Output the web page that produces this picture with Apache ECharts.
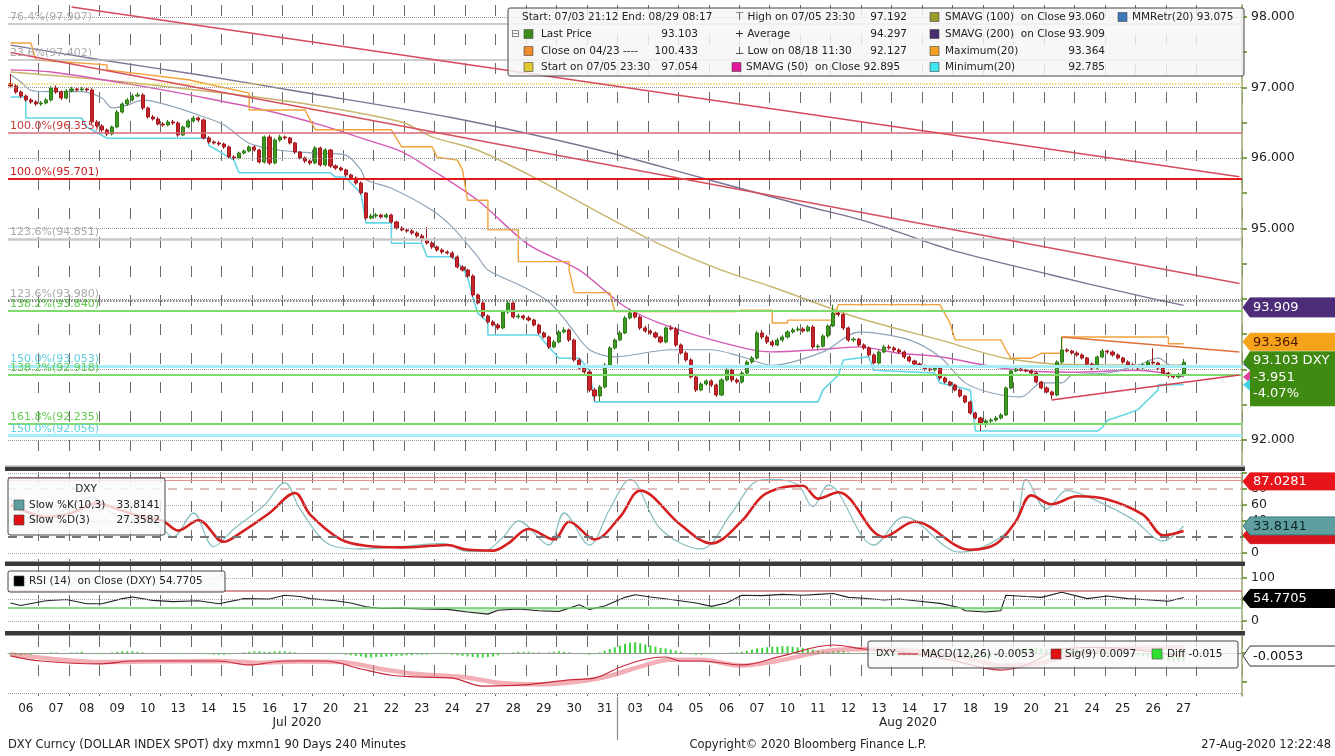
<!DOCTYPE html>
<html><head><meta charset="utf-8">
<script src="https://cdn.jsdelivr.net/npm/echarts@6/dist/echarts.min.js"></script>
<style>html,body{margin:0;padding:0;background:#fff}#c{width:1335px;height:756px}</style>
</head><body><div id="c"></div>
<script>
// ---------------- DATA ----------------
const dayLabels = ['06','07','08','09','10','13','14','15','16','17','20','21','22','23','24','27','28','29','30','31',
  '03','04','05','06','07','10','11','12','13','14','17','18','19','20','21','24','25','26','27'];
const firstOpen = 97.054;
const closes = [
 97.021,96.936,96.879,96.823,96.794,96.766, 96.780,96.823,96.993,96.936,96.851,96.950,
 96.979,96.965,96.979,96.965,96.511,96.454, 96.397,96.340,96.440,96.652,96.766,96.823,
 96.879,96.894,96.709,96.582,96.553,96.482, 96.468,96.511,96.496,96.326,96.440,96.525,
 96.567,96.539,96.284,96.227,96.213,96.198, 96.156,96.014,96.000,96.071,96.099,96.156,
 96.113,95.943,96.298,95.929,96.255,96.298, 96.284,96.213,96.085,96.000,95.957,95.929,
 96.142,95.901,96.113,95.887,95.858,95.830, 95.759,95.716,95.645,95.504,95.149,95.177,
 95.191,95.163,95.191,95.092,95.007,94.979, 94.965,94.936,94.894,94.837,94.794,94.738,
 94.695,94.667,94.652,94.596,94.454,94.411, 94.326,94.057,93.943,93.759,93.674,93.631,
 93.589,93.816,93.943,93.745,93.760,93.730, 93.702,93.631,93.518,93.461,93.319,93.390,
 93.532,93.560,93.418,93.135,93.021,92.965, 92.709,92.624,92.752,93.064,93.305,93.418,
 93.518,93.730,93.801,93.745,93.589,93.546, 93.518,93.461,93.390,93.589,93.575,93.348,
 93.234,93.135,92.894,92.709,92.794,92.837, 92.780,92.638,92.851,92.993,92.851,92.823,
 92.950,93.106,93.163,93.518,93.461,93.390, 93.348,93.418,93.461,93.532,93.560,93.574,
 93.546,93.603,93.319,93.330,93.475,93.617, 93.801,93.780,93.589,93.418,93.430,93.348,
 93.305,93.206,93.092,93.248,93.319,93.305, 93.277,93.248,93.177,93.121,93.078,93.050,
 93.007,92.993,93.021,92.879,92.823,92.780, 92.709,92.624,92.539,92.383,92.312,92.241,
 92.270,92.284,92.312,92.355,92.738,92.979, 93.007,92.993,92.979,92.950,92.823,92.738,
 92.681,92.638,93.106,93.277,93.262,93.234, 93.206,93.163,93.078,93.021,93.177,93.262,
 93.248,93.206,93.163,93.106,93.064,93.035, 93.021,93.064,93.106,93.092,93.021,92.950,
 92.908,92.894,92.922,93.103];
const highs = [
 97.192,97.05,96.96,96.90,96.85,96.82, 96.81,96.85,97.02,97.03,96.96,96.98,
 97.01,97.00,97.01,97.00,96.99,96.54, 96.48,96.42,96.46,96.68,96.79,96.85,
 96.91,96.93,96.92,96.73,96.61,96.58, 96.51,96.54,96.54,96.52,96.46,96.55,
 96.60,96.59,96.56,96.31,96.25,96.24, 96.22,96.18,96.04,96.09,96.12,96.18,
 96.18,96.13,96.32,96.33,96.28,96.33, 96.32,96.30,96.23,96.10,96.02,95.98,
 96.17,96.16,96.14,96.13,95.91,95.88, 95.85,95.78,95.74,95.67,95.52,95.21,
 95.22,95.21,95.22,95.21,95.11,95.03, 95.00,94.99,94.96,94.92,95.02,94.82,
 94.76,94.72,94.69,94.68,94.62,94.48, 94.43,94.35,94.08,93.97,93.78,93.70,
 93.66,93.84,93.98,93.96,93.79,93.78, 93.76,93.72,93.65,93.54,93.48,93.42,
 93.56,93.60,93.58,93.44,93.16,93.05, 92.99,92.74,92.78,93.09,93.33,93.44,
 93.55,93.76,93.86,93.83,93.77,93.62, 93.57,93.54,93.48,93.61,93.63,93.60,
 93.37,93.26,93.16,92.92,92.82,92.86, 92.86,92.80,92.88,93.02,93.01,92.88,
 92.98,93.13,93.19,93.55,93.56,93.49, 93.42,93.45,93.49,93.56,93.59,93.61,
 93.60,93.63,93.63,93.36,93.50,93.64, 93.92,93.84,93.80,93.61,93.46,93.45,
 93.37,93.33,93.23,93.27,93.35,93.35, 93.33,93.30,93.27,93.20,93.14,93.10,
 93.07,93.03,93.05,93.04,92.90,92.84, 92.80,92.73,92.64,92.56,92.40,92.33,
 92.30,92.31,92.34,92.38,92.76,93.00, 93.03,93.03,93.01,93.00,92.97,92.84,
 92.76,92.70,93.13,93.46,93.30,93.28, 93.26,93.23,93.18,93.10,93.20,93.29,
 93.28,93.27,93.23,93.18,93.13,93.09, 93.06,93.09,93.13,93.30,93.11,93.04,
 92.97,92.93,92.95,93.15];
const lows = [
 96.99,96.91,96.85,96.80,96.77,96.74, 96.74,96.76,96.80,96.91,96.82,96.83,
 96.93,96.94,96.95,96.94,96.48,96.43, 96.37,96.31,96.32,96.42,96.63,96.74,
 96.80,96.86,96.68,96.56,96.53,96.46, 96.44,96.45,96.47,96.30,96.31,96.42,
 96.50,96.51,96.26,96.20,96.19,96.17, 96.13,95.99,95.97,95.98,96.05,96.08,
 96.09,95.92,95.92,95.90,95.91,96.23, 96.26,96.19,96.06,95.98,95.93,95.90,
 95.91,95.88,95.88,95.86,95.83,95.81, 95.73,95.69,95.62,95.48,95.12,95.13,
 95.15,95.14,95.14,95.07,94.98,94.96, 94.94,94.91,94.87,94.81,94.77,94.71,
 94.67,94.64,94.63,94.57,94.43,94.39, 94.30,94.03,93.92,93.73,93.65,93.61,
 93.56,93.57,93.79,93.72,93.72,93.70, 93.68,93.61,93.49,93.44,93.29,93.30,
 93.37,93.51,93.39,93.11,93.00,92.94, 92.68,92.55,92.55,92.73,93.04,93.28,
 93.40,93.50,93.71,93.72,93.56,93.52, 93.49,93.44,93.37,93.37,93.55,93.32,
 93.21,93.11,92.87,92.68,92.69,92.77, 92.75,92.61,92.62,92.83,92.82,92.80,
 92.80,92.93,93.08,93.14,93.43,93.36, 93.32,93.33,93.39,93.44,93.51,93.54,
 93.52,93.53,93.29,93.29,93.31,93.45, 93.60,93.75,93.56,93.39,93.39,93.32,
 93.28,93.18,93.07,93.07,93.23,93.28, 93.25,93.22,93.15,93.10,93.05,93.03,
 92.98,92.97,92.97,92.85,92.80,92.76, 92.69,92.60,92.52,92.36,92.29,92.127,
 92.18,92.24,92.26,92.29,92.34,92.72, 92.96,92.97,92.96,92.93,92.80,92.72,
 92.66,92.58,92.62,93.08,93.24,93.21, 93.18,93.14,93.05,92.99,93.00,93.16,
 93.22,93.18,93.14,93.08,93.04,93.01, 92.99,93.00,93.04,93.07,92.99,92.93,
 92.88,92.87,92.87,92.90];

// indicator lines: [bar index, value]
const sma200 = [[0,97.60],[18,97.39],[37,97.18],[57,96.94],[87,96.57],[116,96.11],[136,95.72],[156,95.33],[169,95.09],[185,94.70],[205,94.34],[219,94.10],[231,93.909]];
const sma100 = [[0,97.22],[18,97.11],[37,96.96],[57,96.78],[77,96.51],[83,96.30],[92,96.11],[104,95.69],[116,95.22],[128,94.77],[140,94.41],[150,94.17],[167,93.73],[183,93.42],[196,93.16],[209,93.07],[231,93.06]];
const sma50 = [[0,97.25],[8,97.22],[24,97.04],[37,96.87],[50,96.68],[61,96.47],[70,96.26],[77,96.09],[83,95.83],[92,95.40],[102,94.77],[112,94.41],[121,93.89],[130,93.60],[144,93.31],[150,93.25],[159,93.28],[167,93.32],[175,93.23],[183,93.18],[196,93.01],[209,92.96],[222,92.99],[231,92.895]];
const max20 = [[0,97.63],[4,97.63],[5,97.39],[19,97.32],[19,97.25],[35,97.11],[47,96.92],[47,96.68],[58,96.68],[60,96.40],[75,96.40],[77,96.16],[83,96.16],[84,96.01],[88,95.97],[89,95.83],[90,95.40],[94,95.40],[94,94.98],[100,94.98],[100,94.53],[110,94.53],[110,94.41],[111,94.09],[118,94.09],[119,93.82],[143,93.82],[144,93.84],[150,93.84],[150,93.66],[153,93.66],[153,93.70],[162,93.70],[163,93.92],[183,93.92],[185,93.66],[186,93.42],[195,93.42],[196,93.28],[197,93.16],[201,93.16],[203,93.23],[207,93.23],[207,93.46],[228,93.46],[228,93.364],[231,93.364]];
const min20 = [[0,96.865],[3,96.865],[3,96.567],[14,96.567],[15,96.44],[19,96.28],[39,96.28],[39,96.18],[44,95.97],[45,95.79],[63,95.79],[64,95.73],[66,95.73],[67,95.645],[69,95.50],[70,95.08],[75,95.08],[75,94.79],[81,94.79],[82,94.60],[87,94.60],[89,94.44],[90,94.31],[91,94.03],[92,93.80],[94,93.67],[94,93.49],[104,93.49],[106,93.32],[108,93.16],[112,93.16],[114,92.99],[115,92.54],[159,92.54],[160,92.71],[162,92.85],[163,92.92],[164,93.135],[169,93.18],[170,92.99],[182,92.95],[183,92.81],[189,92.71],[190,92.127],[214,92.127],[215,92.18],[216,92.28],[219,92.35],[222,92.43],[224,92.57],[226,92.71],[226,92.785],[231,92.785]];
const mmRetr = [[0,97.18],[2,97.08],[4,96.96],[7,96.94],[14,96.94],[18,96.85],[20,96.71],[23,96.75],[26,96.82],[31,96.75],[37,96.61],[42,96.47],[47,96.21],[53,96.11],[60,96.07],[66,96.04],[69,95.83],[70,95.69],[75,95.57],[83,95.26],[87,95.02],[92,94.60],[94,94.41],[101,94.17],[106,93.96],[110,93.63],[114,93.28],[119,93.18],[130,93.28],[138,93.28],[144,93.18],[150,93.06],[160,93.25],[167,93.53],[170,93.52],[177,93.42],[183,93.18],[188,92.81],[193,92.67],[199,92.61],[203,92.81],[207,92.81],[209,92.92],[216,92.95],[222,93.06],[226,93.16],[229,93.04],[231,93.075]];
// trendlines [[startIdx,startPrice],[endIdx,endPrice]]
const trendLines = [[[12,98.142],[242,95.733]], [[0,97.496],[242,94.220]], [[207,93.461],[242,93.248]], [[205,92.567],[242,92.922]]];
// fibonacci / reference levels
const fibValues = [97.907, 97.402, 96.355, 95.701, 94.851, 93.980, 93.840, 93.053, 92.918, 92.235, 92.056];
const fibLabels = ['76.4%(97.907)','23.6%(97.402)','100.0%(96.355)','100.0%(95.701)','123.6%(94.851)','123.6%(93.980)','138.2%(93.840)','150.0%(93.053)','138.2%(92.918)','161.8%(92.235)','150.0%(92.056)'];
const startLevel = 97.054;
const priceTicks = [92, 93, 94, 95, 96, 97, 98];
const priceLabels = [92, 95, 96, 97, 98];

// stochastics
const slowK = [[0,70],[2,50],[6,40],[11,55],[16,70],[20,50],[25,40],[29,35],[32,20],[36,50],[40,8],[44,30],[50,60],[54,88],[57,55],[63,10],[69,5],[77,8],[85,12],[90,2],[93,2],[97,20],[100,40],[106,10],[109,50],[114,10],[118,55],[122,92],[128,30],[136,5],[142,50],[147,90],[150,92],[155,85],[158,58],[161,85],[170,10],[176,45],[187,1],[193,12],[198,40],[200,92],[204,55],[208,78],[215,62],[221,42],[227,15],[231,33.8141]];
const slowD = [[0,60],[3,52],[7,45],[12,50],[17,62],[21,55],[26,45],[30,40],[33,28],[37,41],[42,14],[45,24],[51,50],[56,75],[59,48],[65,17],[70,9],[77,7],[83,9],[86,10],[90,4],[95,3],[98,12],[102,30],[107,17],[110,39],[115,17],[120,45],[124,78],[132,35],[138,12],[144,40],[148,71],[152,82],[156,84],[159,68],[163,76],[172,20],[178,39],[189,4],[194,11],[198,40],[201,72],[205,61],[210,71],[216,67],[223,48],[227,22],[229,24],[231,27.3582]];
// RSI
const rsi = [[0,42],[2,36],[7,47],[11,50],[15,40],[18,40],[22,52],[24,56],[28,48],[32,45],[37,47],[41,40],[46,52],[51,51],[54,60],[57,57],[59,52],[64,47],[67,42],[70,33],[73,29],[77,30],[81,28],[86,27],[90,21],[94,16],[96,25],[100,28],[104,24],[108,22],[112,38],[114,27],[117,35],[121,55],[123,61],[126,56],[130,50],[135,42],[138,34],[141,42],[144,60],[148,59],[152,62],[156,60],[159,62],[162,64],[165,55],[168,53],[172,49],[175,51],[179,46],[183,41],[187,31],[188,24],[192,21],[195,24],[196,60],[200,57],[203,55],[207,67],[212,52],[216,58],[220,52],[223,50],[228,46],[231,54.7705]];
// MACD
const macd = [[0,-0.005],[6,-0.014],[18,-0.019],[24,-0.014],[41,-0.014],[47,-0.021],[54,-0.014],[62,-0.014],[69,-0.028],[75,-0.039],[80,-0.042],[87,-0.044],[93,-0.058],[101,-0.056],[110,-0.047],[115,-0.044],[120,-0.025],[125,-0.011],[129,-0.007],[132,-0.014],[136,-0.014],[144,-0.021],[152,-0.005],[162,0.014],[168,0.007],[175,0.002],[185,-0.012],[195,-0.030],[200,-0.021],[207,0.007],[214,0.010],[222,0.005],[231,-0.0053]];
const signal = [[0,-0.002],[8,-0.010],[18,-0.016],[27,-0.015],[41,-0.014],[49,-0.017],[57,-0.015],[65,-0.016],[73,-0.028],[80,-0.037],[89,-0.042],[96,-0.052],[104,-0.055],[112,-0.050],[118,-0.040],[124,-0.024],[130,-0.012],[136,-0.012],[144,-0.022],[151,-0.014],[161,0.004],[169,0.007],[179,0.003],[187,-0.006],[195,-0.022],[201,-0.020],[209,-0.004],[216,0.006],[224,0.009],[231,0.0097]];
const diffMilli = [
 -3,-4,-4,-3,-3,-2, -1,0,1,1,0,-1, 1,1,2,-1,-2,-2, -2,-1,1,2,3,3, 3,2,1,0,-1,-1,
 -1,-1,-2,-2,-1,0, 0,-1,-2,-2,-3,-3, -3,-2,-1,0,1,2, 3,3,2,2,3,3, 3,2,1,0,-1,-1,
 -1,0,0,-1,-2,-2, -3,-4,-5,-6,-8,-8, -7,-7,-6,-6,-5,-5, -4,-4,-3,-3,-3,-2, -2,-2,-2,-3,-4,-5,
 -6,-7,-8,-8,-7,-6, -4,-2,0,1,2,2, 2,1,1,0,1,2, 3,2,1,0,-1,-2, -3,-2,1,4,7,10,
 13,16,18,19,17,15, 13,11,9,8,6,4, 2,0,-2,-3,-3,-2, -2,-2,-1,0,1,1, 2,4,6,8,9,10,
 11,11,12,12,11,10, 9,8,6,4,3,2, 3,4,3,1,0,-1, -2,-3,-4,-4,-5,-5, -5,-5,-6,-6,-6,-6,
 -6,-6,-6,-7,-7,-8, -8,-8,-9,-9,-9,-9, -8,-7,-5,-3,0,3, 5,7,8,9,9,8, 7,6,8,9,9,8,
 7,6,5,4,4,3, 2,1,0,-1,-2,-3, -4,-6,-8,-10,-12,-13, -14,-15,-15,-15];
const stochLevels = [20, 80];

// ---------------- CHART ----------------
const F = 'DejaVu Sans';
const SLOTS = 243;
const cats = Array.from({length: SLOTS}, (_, i) => String(i));
const nBars = closes.length;
const opens = [firstOpen].concat(closes.slice(0, nBars - 1));
const candleData = closes.map((c, i) => [opens[i], c, lows[i], highs[i]]);
const diffData = diffMilli.map(v => v / 1000);
const rsiLow = rsi.map(([i, v]) => [i, Math.min(v, 30)]);
const rsiGap = rsi.map(([i, v]) => [i, 30 - Math.min(v, 30)]);

const chart = echarts.init(document.getElementById('c'));

const grids = [
  {left: 8, right: 93, top: 5, height: 460},
  {left: 8, right: 93, top: 472, height: 89},
  {left: 8, right: 93, top: 566, height: 64},
  {left: 8, right: 93, top: 636, height: 60}
];
function xa(g) {
  return {
    type: 'category', gridIndex: g, data: cats, boundaryGap: true,
    axisLine: {show: g === 3, lineStyle: {color: '#999'}},
    axisTick: {show: false},
    axisLabel: g === 3 ? {
      show: true, interval: (i) => i % 6 === 3 && i < nBars,
      formatter: (v) => dayLabels[Math.floor(parseInt(v, 10) / 6)],
      fontFamily: F, fontSize: 12, color: '#222', margin: 7
    } : {show: false},
    splitLine: {show: true, interval: (i) => i % 6 === 0 && i > 0 && i <= 234,
      lineStyle: {color: '#6a6a6a', width: 1, type: [11, 18]}}
  };
}
const axisCol = '#98a870';
function ya(g, min, max, labels, ticks, fmt) {
  return {
    type: 'value', gridIndex: g, position: 'right', min, max, scale: true,
    axisLine: {show: true, onZero: false, lineStyle: {color: axisCol, width: 1.5}},
    axisTick: {show: !!ticks, customValues: ticks || [], length: 5, inside: false, lineStyle: {color: '#5a8a1a', width: 1.5}},
    axisLabel: {show: !!labels, customValues: labels || [], formatter: fmt || (v => String(v)),
      fontFamily: F, fontSize: 12.5, color: '#222', margin: 9},
    splitLine: {show: false}
  };
}
const hLine = (v, color, width, type) => ({yAxis: v, lineStyle: {color, width, type}, label: {show: false}});

const fibStyle = [
  ['#bdbdbd', 1.5, 'solid', '#aaa'], ['#bdbdbd', 1.5, 'solid', '#aaa'],
  ['#d66a7a', 1.5, 'solid', '#c83a3a'], ['#e01a1a', 2, 'solid', '#c81e1e'],
  ['#c8c8c8', 2.5, 'solid', '#aaa'], ['#555', 1.5, 'dotted', '#aaa'],
  ['#7fdc6c', 2, 'solid', '#62cc50'], ['#a6eef6', 3, 'solid', '#5fd0e0'],
  ['#7fdc6c', 2, 'solid', '#62cc50'], ['#7fdc6c', 2, 'solid', '#62cc50'],
  ['#a6eef6', 3, 'solid', '#5fd0e0']
];
const mainMarks = [];
priceTicks.forEach(v => mainMarks.push(hLine(v, '#9a9a9a', 1, 'dotted')));
mainMarks.push(hLine(startLevel, '#e2d24a', 1.5, 'dotted'));
fibValues.forEach((v, k) => {
  const s = fibStyle[k];
  mainMarks.push({yAxis: v, lineStyle: {color: s[0], width: s[1], type: s[2]},
    label: {show: true, position: 'insideStartTop', formatter: fibLabels[k], color: s[3],
      fontFamily: F, fontSize: 11, distance: [2, 1]}});
});
const tlColors = ['#d64a5a', '#d6505e', '#e0703a', '#d64050'];
trendLines.forEach((t, k) => mainMarks.push([
  {coord: t[0], lineStyle: {color: tlColors[k], width: 1.6, type: 'solid'}, label: {show: false}},
  {coord: t[1]}]));

const lineS = (name, data, color, width, xi, yi, extra) => Object.assign({
  name, type: 'line', data, xAxisIndex: xi, yAxisIndex: yi, showSymbol: false, symbol: 'none',
  lineStyle: {color, width}, itemStyle: {color}, z: 3, animation: false
}, extra || {});

const option = {
  backgroundColor: '#fff',
  animation: false,
  grid: grids,
  xAxis: [xa(0), xa(1), xa(2), xa(3)],
  yAxis: [
    ya(0, 91.645, 98.17, priceLabels, [92,92.5,93,93.5,94,94.5,95,95.5,96,96.5,97,97.5,98], v => v.toFixed(3)),
    ya(1, -10, 101.25, [0, 20, 40, 60, 80], [0, 20, 40, 60, 80, 100]),
    ya(2, -20.9, 127.9, [0, 50, 100], [0, 50, 100]),
    ya(3, -0.0754, 0.0298, null, [-0.05, 0])
  ],
  series: [
    {name: 'Last Price', type: 'candlestick', data: candleData, xAxisIndex: 0, yAxisIndex: 0, barWidth: 3.6, z: 4,
      itemStyle: {color: '#3d9b23', color0: '#c8242a', borderColor: '#2d7a16', borderColor0: '#9e1a1e', borderWidth: 1},
      markLine: {symbol: ['none', 'none'], silent: true, animation: false, data: mainMarks}},
    lineS('SMAVG (200)', sma200, '#7b7394', 1.4, 0, 0, {smooth: 0.3}),
    lineS('SMAVG (100)', sma100, '#c9b46c', 1.4, 0, 0, {smooth: 0.3}),
    lineS('SMAVG (50)', sma50, '#d45bb5', 1.4, 0, 0, {smooth: 0.3}),
    lineS('Maximum(20)', max20, '#f0a23a', 1.4, 0, 0),
    lineS('Minimum(20)', min20, '#62d6e6', 1.6, 0, 0),
    lineS('MMRetr(20)', mmRetr, '#8ea3b8', 1.2, 0, 0, {smooth: 0.3}),
    // stochastics
    lineS('Slow %K', slowK, '#8cc2c2', 1.3, 1, 1, {smooth: 0.35,
      markLine: {symbol: ['none','none'], silent: true, animation: false, data: [
        hLine(0, '#aaa', 1, 'dotted'), hLine(40, '#aaa', 1, 'dotted'), hLine(60, '#aaa', 1, 'dotted'), hLine(100, '#aaa', 1, 'dotted'),
        hLine(stochLevels[1], '#d8a8a8', 1.5, [9, 7]), hLine(stochLevels[0], '#777', 2, [9, 7]),
        hLine(91, '#e09090', 1, 'solid'), hLine(95, '#e09090', 1, 'solid')]}}),
    lineS('Slow %D', slowD, '#d42020', 2.6, 1, 1, {smooth: 0.35}),
    // RSI
    lineS('rsiBase', rsiLow, 'rgba(0,0,0,0)', 0, 2, 2, {stack: 'rf', z: 1}),
    lineS('rsiFill', rsiGap, 'rgba(0,0,0,0)', 0, 2, 2, {stack: 'rf', z: 1, areaStyle: {color: 'rgba(120,220,120,0.55)'}}),
    lineS('RSI (14)', rsi, '#222', 1.1, 2, 2, {
      markLine: {symbol: ['none','none'], silent: true, animation: false, data: [
        hLine(100, '#aaa', 1, 'dotted'), hLine(50, '#aaa', 1, 'dotted'), hLine(0, '#aaa', 1, 'dotted'),
        hLine(70, '#c87070', 1.5, 'solid'), hLine(30, '#6cc86c', 1.5, 'solid')]}}),
    // MACD
    {name: 'Diff', type: 'bar', data: diffData, xAxisIndex: 3, yAxisIndex: 3, barWidth: 2, z: 2,
      itemStyle: {color: '#3fd23f'}, animation: false,
      markLine: {symbol: ['none','none'], silent: true, animation: false, data: [
        hLine(0, '#999', 1, 'dotted'), hLine(-0.074, '#999', 1, 'dotted')]}},
    lineS('Sig(9)', signal, 'rgba(232,110,120,0.55)', 4.5, 3, 3, {smooth: 0.35}),
    lineS('MACD(12,26)', macd, '#c8283a', 1.2, 3, 3, {smooth: 0.35})
  ]
};
chart.setOption(option);

// ---------------- DECORATIONS (legends, tags, text) ----------------
const px = (yi, v) => chart.convertToPixel({yAxisIndex: yi}, v);
const G = [];
const T = (x, y, text, o) => { o = o || {}; G.push({type: 'text', z: o.z || 120, silent: true, style: {x, y, text,
  fill: o.fill || '#222', font: (o.w || 'normal') + ' ' + (o.size || 10.5) + 'px ' + F, textAlign: o.align || 'left', textVerticalAlign: 'middle'}}); };
const SQ = (x, y, color, s) => { s = s || 9; G.push({type: 'rect', z: 120, silent: true, shape: {x, y: y - s / 2, width: s, height: s}, style: {fill: color, stroke: '#444', lineWidth: 0.6}}); };
const BOX = (x, y, w, h, fill) => G.push({type: 'rect', z: 110, silent: true, shape: {x, y, width: w, height: h, r: 2}, style: {fill: fill || 'rgba(246,246,246,0.85)', stroke: '#444', lineWidth: 1}});

// panel separators
[[465.5, 1.2, '#999'], [467, 4, '#3a3a3a'], [561.5, 4.5, '#3a3a3a'], [631, 4.5, '#3a3a3a']].forEach(s =>
  G.push({type: 'rect', z: 90, silent: true, shape: {x: 5, y: s[0], width: 1240, height: s[1]}, style: {fill: s[2]}}));

// main legend
BOX(508, 8, 736, 68);
T(522, 17, 'Start: 07/03 21:12 End: 08/29 08:17');
T(511, 34, '⊟', {size: 10, fill: '#666'});
SQ(524, 34, '#3d8c1a'); T(541, 34, 'Last Price'); T(698, 34, '93.103', {align: 'right'});
SQ(524, 51, '#f08a2a'); T(541, 51, 'Close on 04/23 ----'); T(698, 51, '100.433', {align: 'right'});
SQ(524, 67, '#e0c830'); T(541, 67, 'Start on 07/05 23:30'); T(698, 67, '97.054', {align: 'right'});
T(735, 17, '⊤ High on 07/05 23:30'); T(907, 17, '97.192', {align: 'right'});
T(735, 34, '+ Average'); T(907, 34, '94.297', {align: 'right'});
T(735, 51, '⊥ Low on 08/18 11:30'); T(907, 51, '92.127', {align: 'right'});
SQ(732, 67, '#e01a9a'); T(746, 67, 'SMAVG (50)  on Close 92.895');
SQ(930, 17, '#9a9a2a'); T(945, 17, 'SMAVG (100)  on Close'); T(1105, 17, '93.060', {align: 'right'});
SQ(930, 34, '#4a2a70'); T(945, 34, 'SMAVG (200)  on Close'); T(1105, 34, '93.909', {align: 'right'});
SQ(930, 51, '#f5a020'); T(945, 51, 'Maximum(20)'); T(1105, 51, '93.364', {align: 'right'});
SQ(930, 67, '#40e6f0'); T(945, 67, 'Minimum(20)'); T(1105, 67, '92.785', {align: 'right'});
SQ(1118, 17, '#3a78b8'); T(1132, 17, 'MMRetr(20) 93.075');

// stochastic legend
BOX(8, 478, 157, 57, 'rgba(250,250,250,0.8)');
T(86, 489, 'DXY', {align: 'center'});
SQ(14, 505, '#5a9ea0', 10); T(29, 505, 'Slow %K(10,3)'); T(160, 505, '33.8141', {align: 'right'});
SQ(14, 520, '#e01010', 10); T(29, 520, 'Slow %D(3)'); T(160, 520, '27.3582', {align: 'right'});
// RSI legend
BOX(8, 571, 217, 21, 'rgba(250,250,250,0.8)');
SQ(14, 581, '#000', 10); T(29, 581, 'RSI (14)  on Close (DXY) 54.7705');
// MACD legend
BOX(868, 641, 370, 27, 'rgba(248,248,248,0.78)');
T(876, 654, 'DXY', {size: 9.5});
G.push({type: 'line', z: 120, silent: true, shape: {x1: 898, y1: 654, x2: 918, y2: 654}, style: {stroke: '#d04050', lineWidth: 1.5}});
T(921, 654, 'MACD(12,26) -0.0053');
SQ(1051, 654, '#e01010', 10); T(1065, 654, 'Sig(9) 0.0097');
SQ(1152, 654, '#30e030', 10); T(1167, 654, 'Diff -0.015');

// right-side value tags
function tag(yc, h, fill, stroke, text, color) {
  G.push({type: 'polygon', z: 130, silent: true, shape: {points: [[1243, yc], [1250, yc - h / 2], [1336, yc - h / 2], [1336, yc + h / 2], [1250, yc + h / 2]]},
    style: {fill, stroke: stroke || fill, lineWidth: 1}});
  G.push({type: 'text', z: 131, silent: true, style: {x: 1253, y: yc + 0.5, text, fill: color, font: '13px ' + F, textVerticalAlign: 'middle'}});
}
// small indicator arrows behind the last-price box
[[px(0, 92.895), '#e0409a'], [px(0, 93.075), '#3a78b8'], [px(0, 92.785), '#40d0e0']].forEach(a =>
  G.push({type: 'polygon', z: 125, silent: true, shape: {points: [[1243, a[0]], [1250, a[0] - 6], [1258, a[0] - 6], [1258, a[0] + 6], [1250, a[0] + 6]]}, style: {fill: a[1]}}));
tag(px(0, 93.909) + 2, 19, '#4e2d78', null, '93.909', '#fff');
tag(px(0, 93.364) - 2, 17, '#f5a31a', null, '93.364', '#4a1400');
// last price box
const yl = px(0, 93.103);
G.push({type: 'polygon', z: 130, silent: true, shape: {points: [[1243, yl], [1250, yl - 11], [1336, yl - 11], [1336, yl + 44], [1250, yl + 44], [1250, yl + 8]]}, style: {fill: '#3f8a10'}});
T(1253, yl - 2, '93.103 DXY', {fill: '#fff', size: 13, z: 135});
T(1253, yl + 15, '-3.951', {fill: '#fff', size: 13, z: 135});
T(1253, yl + 31, '-4.07%', {fill: '#fff', size: 13, z: 135});
tag(px(1, 87.0281) - 2, 17, '#e8141c', null, '87.0281', '#fff');
tag(px(1, 27.3582) + 4, 17, '#d8141c', null, '', '#fff');
tag(px(1, 33.8141), 18, '#5f9fa0', '#3a7a7a', '33.8141', '#0e2626');
tag(px(2, 54.7705) + 1, 18, '#000', null, '54.7705', '#fff');
tag(px(3, -0.0053), 20, '#fff', '#333', '-0.0053', '#111');

// month labels / divider / footer
G.push({type: 'line', z: 90, silent: true, shape: {x1: 617.5, y1: 697, x2: 617.5, y2: 740}, style: {stroke: '#888', lineWidth: 1.2}});
T(297, 723, 'Jul 2020', {align: 'center', size: 12});
T(908, 723, 'Aug 2020', {align: 'center', size: 12});
T(8, 745, 'DXY Curncy (DOLLAR INDEX SPOT) dxy mxmn1 90 Days 240 Minutes', {size: 11.5});
T(808, 745, 'Copyright© 2020 Bloomberg Finance L.P.', {size: 11.5, align: 'center'});
T(1331, 745, '27-Aug-2020 12:22:48', {size: 11.5, align: 'right'});

chart.setOption({graphic: G});
</script></body></html>
